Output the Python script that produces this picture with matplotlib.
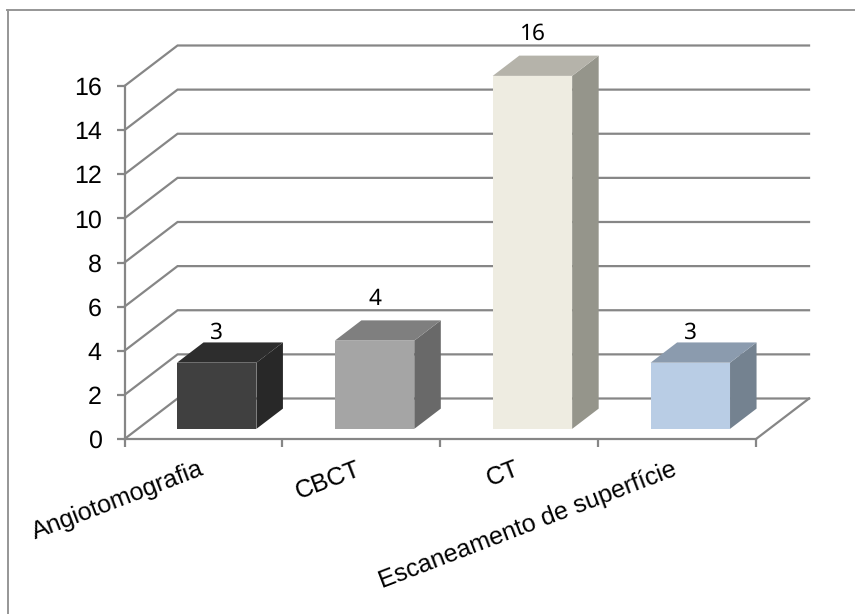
import matplotlib
matplotlib.use('Agg')
import matplotlib.pyplot as plt
from matplotlib.lines import Line2D
from matplotlib.patches import Polygon

plt.rcParams['font.family'] = ['Liberation Sans', 'DejaVu Sans']
plt.rcParams['text.hinting'] = 'none'
plt.rcParams['text.hinting_factor'] = 1

categories = ['Angiotomografia', 'CBCT', 'CT', 'Escaneamento de superfície']
values = [3, 4, 16, 3]
y_ticks = [0, 2, 4, 6, 8, 10, 12, 14, 16]

front_colors = ['#404040', '#a5a5a5', '#eeece1', '#b9cde5']
top_colors = ['#2d2d2d', '#7f7f7f', '#b5b3aa', '#8b9bae']
side_colors = ['#282828', '#696969', '#95958b', '#748290']

line_color = '#868686'
line_width = 1.6

# distancia (pt) entre o rotulo de valor e o topo frontal da barra
label_gaps = [21.2, 30, 30, 21.2]

W, H = 855, 614
fig = plt.figure(figsize=(W / 100, H / 100), dpi=100)
ax = fig.add_axes([124.5 / W, (H - 439) / H, 631.5 / W, 353 / H])
ax.set_xlim(0, len(categories))
ax.set_ylim(0, 16)
ax.patch.set_visible(False)

# profundidade do grafico 3D em unidades dos eixos
depth_x = 0.336
depth_y = 1.836
bar_width = 0.503

# moldura externa (so esquerda e topo)
fig.add_artist(Line2D([7.5 / W, 7.5 / W], [0, 1 - 9.5 / H], color='#969696', lw=1.4))
fig.add_artist(Line2D([7 / W, 1], [1 - 9.5 / H, 1 - 9.5 / H], color='#969696', lw=1.4))

# eixos frontais
for side in ['top', 'right']:
    ax.spines[side].set_visible(False)
for side in ['left', 'bottom']:
    ax.spines[side].set_color(line_color)
    ax.spines[side].set_linewidth(line_width)
ax.set_xticks(range(len(categories) + 1))
ax.set_xticklabels([])
ax.set_yticks(y_ticks)
ax.tick_params(axis='both', color=line_color, width=line_width, length=5.5)
ax.tick_params(axis='y', labelsize=18, pad=11, labelcolor='black')

# linhas de grade na parede esquerda e no fundo
xmax = len(categories)
for t in y_ticks:
    ax.plot([0, depth_x, xmax + depth_x], [t, t + depth_y, t + depth_y],
            color=line_color, lw=line_width, clip_on=False, zorder=1,
            solid_joinstyle='miter')
ax.plot([xmax, xmax + depth_x], [0, depth_y], color=line_color, lw=line_width,
        clip_on=False, zorder=1)

# barras em perspectiva
for i, v in enumerate(values):
    x0 = i + 0.5 - bar_width / 2 + depth_x * 0.25
    x1 = x0 + bar_width
    y0 = depth_y * 0.25
    y1 = y0 + v
    dx = depth_x * 0.5
    dy = depth_y * 0.5
    ax.add_patch(Polygon([(x1, y0), (x1 + dx, y0 + dy), (x1 + dx, y1 + dy), (x1, y1)],
                         fc=side_colors[i], ec='none', zorder=3, clip_on=False))
    ax.add_patch(Polygon([(x0, y1), (x0 + dx, y1 + dy), (x1 + dx, y1 + dy), (x1, y1)],
                         fc=top_colors[i], ec='none', zorder=3, clip_on=False))
    ax.add_patch(Polygon([(x0, y0), (x1, y0), (x1, y1), (x0, y1)],
                         fc=front_colors[i], ec='none', zorder=4, clip_on=False))
    # rotulo de valor acima da barra
    ax.annotate(str(v), ((x0 + x1) / 2, y1), xytext=(0, label_gaps[i]), textcoords='offset points',
                ha='center', va='center', fontsize=16.3, family=['Noto Sans', 'DejaVu Sans'],
                color='black', zorder=5, annotation_clip=False)

# rotulos das categorias inclinados
for i, name in enumerate(categories):
    ax.annotate(name, (i + 0.5, 0), xytext=(-3.8, -13), textcoords='offset points',
                ha='right', va='top', rotation=21, rotation_mode='anchor',
                fontsize=17.8, color='black', annotation_clip=False)

fig.savefig('out.png', dpi=100)
